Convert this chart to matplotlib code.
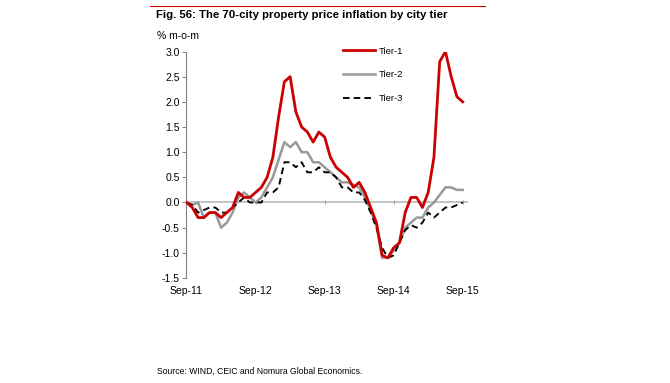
import numpy as np
import matplotlib
matplotlib.use('Agg')
import matplotlib.pyplot as plt

plt.rcParams['font.family'] = ['Liberation Sans', 'DejaVu Sans']

# monthly m-o-m change, Sep-11 .. Sep-15
tier1 = [0.0, -0.1, -0.3, -0.3, -0.2, -0.2, -0.3, -0.2, -0.1, 0.2,
         0.1, 0.1, 0.2, 0.3, 0.5, 0.9, 1.7, 2.4, 2.5, 1.8,
         1.5, 1.4, 1.2, 1.4, 1.3, 0.9, 0.7, 0.6, 0.5, 0.3,
         0.4, 0.2, -0.1, -0.4, -1.05, -1.1, -0.9, -0.8, -0.2, 0.1,
         0.1, -0.1, 0.2, 0.9, 2.8, 3.0, 2.5, 2.1, 2.0]
tier2 = [0.0, -0.05, 0.0, -0.3, -0.2, -0.2, -0.5, -0.4, -0.2, 0.1,
         0.2, 0.1, 0.0, 0.1, 0.3, 0.5, 0.85, 1.2, 1.1, 1.2,
         1.0, 1.0, 0.8, 0.8, 0.7, 0.6, 0.5, 0.4, 0.4, 0.35,
         0.3, 0.1, -0.15, -0.45, -1.1, -1.1, -0.95, -0.8, -0.5, -0.4,
         -0.3, -0.3, -0.1, 0.0, 0.15, 0.3, 0.3, 0.25, 0.25]
tier3 = [0.0, -0.05, -0.2, -0.15, -0.1, -0.1, -0.2, -0.2, -0.1, 0.0,
         0.1, 0.0, 0.0, 0.0, 0.2, 0.2, 0.3, 0.8, 0.8, 0.7,
         0.8, 0.6, 0.6, 0.7, 0.6, 0.6, 0.5, 0.3, 0.3, 0.2,
         0.2, 0.05, -0.2, -0.5, -0.9, -1.1, -1.05, -0.8, -0.55, -0.45,
         -0.5, -0.4, -0.2, -0.3, -0.2, -0.1, -0.1, -0.05, 0.0]
tick_pos = [0, 12, 24, 36, 48]
tick_labels = ['Sep-11', 'Sep-12', 'Sep-13', 'Sep-14', 'Sep-15']
y_ticks = [3.0, 2.5, 2.0, 1.5, 1.0, 0.5, 0.0, -0.5, -1.0, -1.5]

x = np.arange(len(tier1))

fig = plt.figure(figsize=(6.7, 3.83), dpi=100)
ax = fig.add_axes([0.2776, 0.2742, 0.4216, 0.5913])

ax.axhline(0, color='#bfbfbf', lw=1.3, zorder=1)
ax.plot(tick_pos[1:], [0] * 4, ls='none', marker='|', ms=3, mew=0.7,
        color='#999999', zorder=1)

ax.plot(x, tier1, color='#cc0000', lw=2.0, label='Tier-1', zorder=4)
ax.plot(x, tier2, color='#999999', lw=1.8, label='Tier-2', zorder=3)
ax.plot(x, tier3, color='black', lw=1.35, ls=(0, (3.5, 2.2)),
        label='Tier-3', zorder=3)

ax.set_xlim(-0.1, 49)
ax.set_ylim(-1.5, 3.0)
ax.set_yticks(y_ticks)
ax.set_yticklabels(['%.1f' % v for v in y_ticks])
ax.set_xticks(tick_pos)
ax.set_xticklabels(tick_labels)

for s in ['top', 'right', 'bottom']:
    ax.spines[s].set_visible(False)
ax.spines['left'].set_color('#808080')
ax.spines['left'].set_linewidth(0.8)
ax.tick_params(axis='y', length=3, width=0.7, color='#808080', pad=1.5,
               labelsize=7.5)
ax.tick_params(axis='x', length=0, pad=6.0, labelsize=7.5)

fig.legend(loc='upper left', bbox_to_anchor=(0.5115, 0.878), frameon=False,
           fontsize=6.8, handlelength=3.4, handletextpad=0.45,
           labelspacing=1.55, borderpad=0, borderaxespad=0)

fig.add_artist(plt.Line2D([150 / 670, 485 / 670], [1 - 6 / 383, 1 - 6 / 383],
                          color='#cc0000', lw=0.8))
fig.text(156 / 670, 1 - 15.5 / 383,
         'Fig. 56: The 70-city property price inflation by city tier',
         fontsize=8.2, fontweight='bold', va='center', ha='left')
fig.text(157 / 670, 1 - 36 / 383, '% m-o-m', fontsize=7.5, va='center',
         ha='left')
fig.text(157 / 670, 1 - 371 / 383,
         'Source: WIND, CEIC and Nomura Global Economics.',
         fontsize=6.2, va='center', ha='left')

fig.savefig('out.png', dpi=100)
